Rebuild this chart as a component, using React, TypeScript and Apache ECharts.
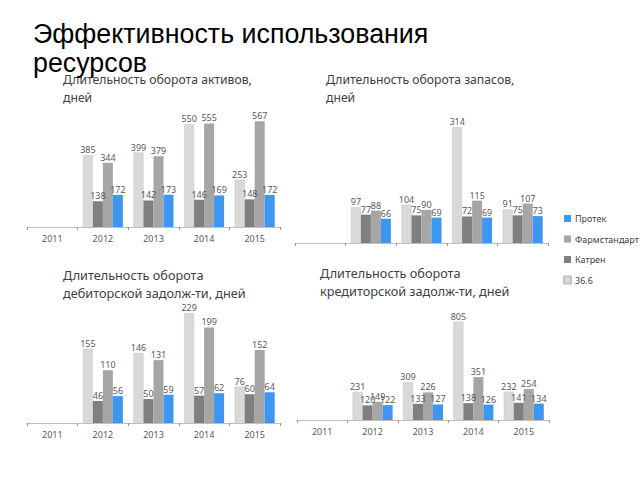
import React, { useEffect, useRef } from "react";
import * as echarts from "echarts";

const years = ["2011", "2012", "2013", "2014", "2015"];
const seriesNames = ["36.6", "Катрен", "Фармстандарт", "Протек"];
const colors = ["#d9d9d9", "#7f7f7f", "#a6a6a6", "#3d97f0"];

// Длительность оборота активов
const assets366 = [null, 385, 399, 550, 253];
const assetsKatren = [null, 138, 142, 146, 148];
const assetsPharm = [null, 344, 379, 555, 567];
const assetsProtek = [null, 172, 173, 169, 172];

// Длительность оборота запасов
const stock366 = [null, 97, 104, 314, 91];
const stockKatren = [null, 77, 75, 72, 75];
const stockPharm = [null, 88, 90, 115, 107];
const stockProtek = [null, 66, 69, 69, 73];

// Дебиторская задолженность
const recv366 = [null, 155, 146, 229, 76];
const recvKatren = [null, 46, 50, 57, 60];
const recvPharm = [null, 110, 131, 199, 152];
const recvProtek = [null, 56, 59, 62, 64];

// Кредиторская задолженность
const pay366 = [null, 231, 309, 805, 232];
const payKatren = [null, 120, 133, 138, 141];
const payPharm = [null, 149, 226, 351, 254];
const payProtek = [null, 122, 127, 126, 134];

const mainTitle = "Эффективность использования\nресурсов";
const chartTitles = [
  "Длительность оборота активов,\nдней",
  "Длительность оборота запасов,\nдней",
  "Длительность оборота\nдебиторской задолж-ти, дней",
  "Длительность оборота\nкредиторской задолж-ти, дней",
];

const panels = [
  { left: 27, width: 253, top: 115, height: 112, max: 600, labels: true, data: [assets366, assetsKatren, assetsPharm, assetsProtek], tx: 63, ty: 70, fs: 12.2 },
  { left: 295, width: 253, top: 114, height: 129, max: 350, labels: false, data: [stock366, stockKatren, stockPharm, stockProtek], tx: 326, ty: 70, fs: 12.2 },
  { left: 27, width: 253, top: 303, height: 120, max: 250, labels: true, data: [recv366, recvKatren, recvPharm, recvProtek], tx: 63, ty: 266, fs: 12.7 },
  { left: 297, width: 252, top: 310, height: 110, max: 900, labels: true, data: [pay366, payKatren, payPharm, payProtek], tx: 320, ty: 264, fs: 12.7 },
];

const FONT = "'Noto Sans', 'Open Sans', sans-serif";

export default function App() {
  const ref = useRef<HTMLDivElement>(null);
  useEffect(() => {
    document.body.style.margin = "0";
    const chart = echarts.init(ref.current!, null, { renderer: "svg" });
    const grids: any[] = [];
    const xAxes: any[] = [];
    const yAxes: any[] = [];
    const series: any[] = [];
    panels.forEach((p, i) => {
      grids.push({ left: p.left, width: p.width, top: p.top, height: p.height });
      xAxes.push({
        type: "category",
        gridIndex: i,
        data: years,
        axisLine: { lineStyle: { color: "#bfbfbf", width: 1 } },
        axisTick: { show: true, length: 3, lineStyle: { color: "#999" } },
        axisLabel: { show: p.labels, color: "#595959", fontSize: 9, fontFamily: FONT, margin: 7 },
      });
      yAxes.push({ type: "value", gridIndex: i, min: 0, max: p.max, show: false, splitLine: { show: false } });
      p.data.forEach((d, k) => {
        series.push({
          type: "bar",
          name: seriesNames[k],
          xAxisIndex: i,
          yAxisIndex: i,
          data: d,
          barWidth: 10,
          barGap: "0%",
          itemStyle: {
            color: colors[k],
            borderColor: k === 0 ? "#c4c4c4" : undefined,
            borderWidth: k === 0 ? 0.5 : 0,
          },
          label: {
            show: true,
            position: "top",
            distance: 1,
            color: "#595959",
            fontSize: 9,
            fontFamily: FONT,
          },
        });
      });
    });
    const graphic: any[] = [
      {
        type: "text",
        left: 33,
        top: 19,
        z: 100,
        style: { text: mainTitle, fontSize: 26.8, fontFamily: "'Liberation Sans', Arial, sans-serif", fill: "#000", lineHeight: 29 },
      },
    ];
    panels.forEach((p, i) => {
      graphic.push({
        type: "text",
        left: p.tx,
        top: p.ty,
        style: { text: chartTitles[i], fontSize: p.fs, fontFamily: FONT, fill: "#404040", lineHeight: 18 },
      });
    });
    chart.setOption({
      animation: false,
      backgroundColor: "#fff",
      color: colors,
      grid: grids,
      xAxis: xAxes,
      yAxis: yAxes,
      series,
      legend: {
        data: ["Протек", "Фармстандарт", "Катрен", "36.6"],
        orient: "vertical",
        left: 558,
        top: 209,
        itemWidth: 7,
        itemHeight: 7,
        itemGap: 11.5,
        icon: "rect",
        textStyle: { fontSize: 9, color: "#404040", fontFamily: FONT, padding: [0, 0, 0, -1] },
      },
      graphic,
    });
    return () => chart.dispose();
  }, []);
  return <div ref={ref} style={{ position: "absolute", left: 0, top: 0, width: 640, height: 480 }} />;
}
